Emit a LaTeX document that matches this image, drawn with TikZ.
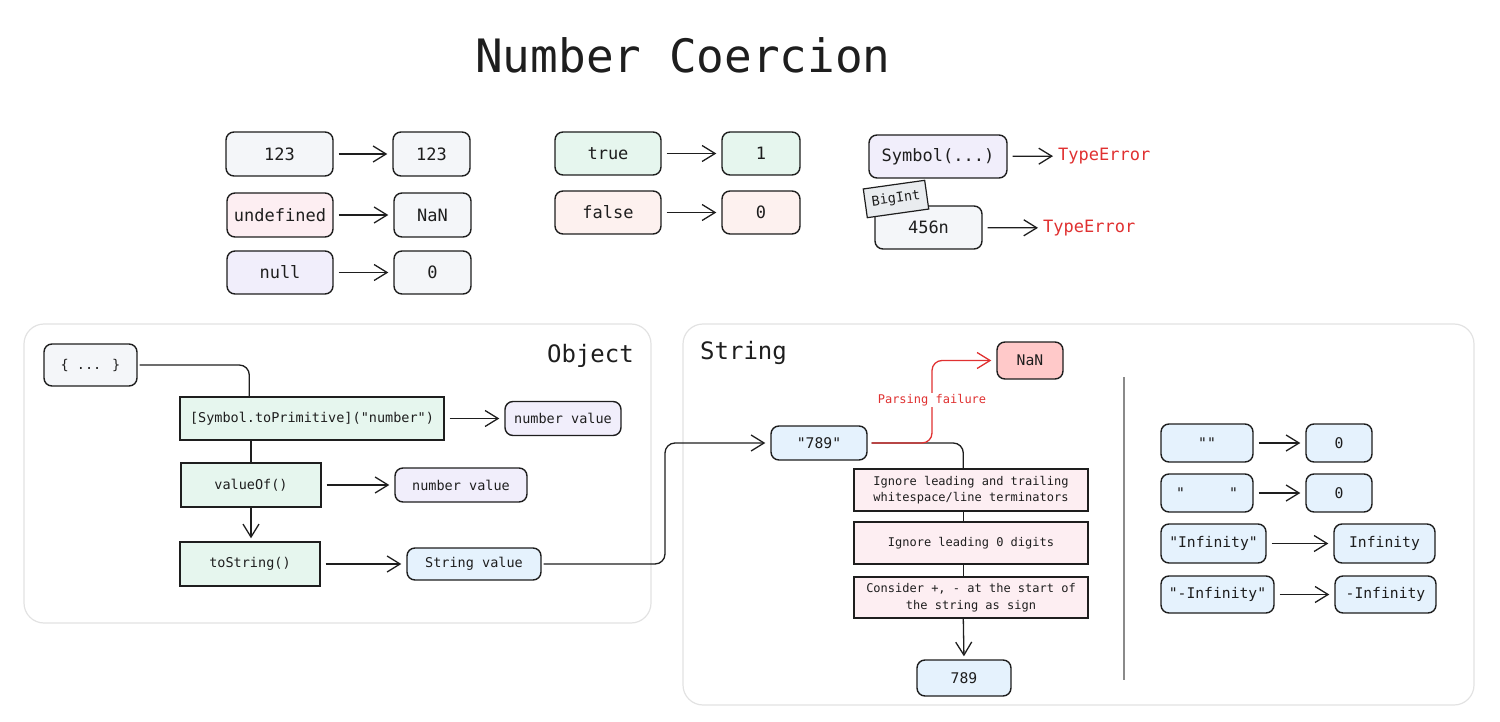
\documentclass[tikz,border=0pt]{standalone}
\usepackage{fontspec}
\setmainfont{DejaVu Sans Mono}[Ligatures=TeXOff]
\usetikzlibrary{arrows.meta,calc}
\definecolor{ink}{HTML}{1E1E1E}
\definecolor{fgray}{HTML}{F4F6F9}
\definecolor{fpink}{HTML}{FDEEF2}
\definecolor{flav}{HTML}{F1EEFB}
\definecolor{fgreen}{HTML}{E6F6EE}
\definecolor{fpeach}{HTML}{FDF1EF}
\definecolor{fblue}{HTML}{E5F2FD}
\definecolor{fnan}{HTML}{FFC9C9}
\definecolor{ftag}{HTML}{E9ECEF}
\definecolor{errred}{HTML}{E03131}
\definecolor{panel}{HTML}{E2E2E2}
\definecolor{divider}{HTML}{8A8A8A}
\tikzset{
  bx/.style={draw=ink, line width=1.4pt, rounded corners=8pt, inner sep=0pt, text=ink, align=center},
  sq/.style={draw=ink, line width=1.4pt, inner sep=0pt, text=ink, align=center},
  ln/.style={draw=ink, line width=1.3pt},
  arr/.style={ln, -{Straight Barb[length=13pt,width=16pt,line width=1.3pt]}, shorten >=5pt, shorten <=5pt},
  redarr/.style={draw=errred, line width=1.3pt, -{Straight Barb[length=13pt,width=16pt,line width=1.3pt]}, shorten >=5pt, shorten <=4pt},
  pnl/.style={draw=panel, line width=1.2pt, rounded corners=20pt},
  fA/.style={font=\fontsize{17}{20}\selectfont},
  fB/.style={font=\fontsize{13.5}{16}\selectfont},
  fC/.style={font=\fontsize{12}{16.5}\selectfont},
  fD/.style={font=\fontsize{14.7}{18}\selectfont},
  fT/.style={font=\fontsize{24}{28}\selectfont},
  sz/.style 2 args={minimum width=#1pt, minimum height=#2pt},
}
\begin{document}
\begin{tikzpicture}[x=1pt,y=-1pt]
\useasboundingbox (0,0) rectangle (1500,722);

% title
\node[text=ink, font=\fontsize{46}{54}\selectfont] (title) at (683,55) {Number Coercion};

% top-left group
\node[bx, fA, fill=fgray, sz={107}{44}] (a1) at (279.5,154) {123};
\node[bx, fA, fill=fgray, sz={77}{44}] (b1) at (431.5,154) {123};
\node[bx, fA, fill=fpink, sz={106}{44}] (a2) at (280,215) {undefined};
\node[bx, fA, fill=fgray, sz={77}{44}] (b2) at (432.5,215) {NaN};
\node[bx, fA, fill=flav, sz={106}{43}] (a3) at (280,272.5) {null};
\node[bx, fA, fill=fgray, sz={77}{43}] (b3) at (432.5,272.5) {0};
\draw[arr] (a1) -- (b1);
\draw[arr] (a2) -- (b2);
\draw[arr] (a3) -- (b3);

% middle group
\node[bx, fA, fill=fgreen, sz={106}{43}] (c1) at (608,153.5) {true};
\node[bx, fA, fill=fgreen, sz={78}{43}] (d1) at (761,153.5) {1};
\node[bx, fA, fill=fpeach, sz={106}{43}] (c2) at (608,212.5) {false};
\node[bx, fA, fill=fpeach, sz={78}{43}] (d2) at (761,212.5) {0};
\draw[arr] (c1) -- (d1);
\draw[arr] (c2) -- (d2);

% right group
\node[bx, fA, fill=flav, sz={138}{43}] (sym) at (938,156.5) {Symbol(...)};
\node[fA, text=errred, anchor=west, inner sep=0pt] (te1) at (1058,156) {TypeError};
\draw[arr] (sym) -- (te1);
\node[bx, fA, fill=fgray, sz={107}{43}] (big) at (928.5,227.5) {456n};
\node[fA, text=errred, anchor=west, inner sep=0pt] (te2) at (1043,228) {TypeError};
\draw[arr] (big) -- (te2);
\node[sq, fB, fill=ftag, line width=1.2pt, sz={62}{29}, rotate=8] (tag) at (896,199) {BigInt};

% Object panel
\draw[pnl] (24,324) rectangle (651,623);
\node[fT, text=ink, anchor=base east, inner sep=0pt] (objt) at (634,362) {Object};
\node[bx, fB, fill=fgray, sz={93}{42}] (obj) at (90.5,365) {\{ ... \}};
\node[sq, fB, fill=fgreen, sz={264}{43}] (tp) at (312,418.5) {[Symbol.toPrimitive]("number")};
\node[bx, fB, fill=flav, sz={116}{34}] (nv1) at (563,418.5) {number value};
\node[sq, fB, fill=fgreen, sz={140}{44}] (vo) at (251,485) {valueOf()};
\node[bx, fB, fill=flav, sz={132}{34}] (nv2) at (461,485) {number value};
\node[sq, fB, fill=fgreen, sz={140}{44}] (ts) at (250,564) {toString()};
\node[bx, fB, fill=fblue, sz={134}{32}] (sv) at (474,564) {String value};
\draw[ln, rounded corners=10pt, shorten <=2pt] (obj.east) -| ([xshift=70pt]tp.north west);
\draw[arr] (tp) -- (nv1);
\draw[ln] (vo.north |- tp.south) -- (vo.north);
\draw[arr] (vo) -- (nv2);
\draw[arr, shorten <=0pt, shorten >=3pt] (vo.south) -- (vo.south |- ts.north);
\draw[arr] (ts) -- (sv);

% String panel
\draw[pnl] (683,324) rectangle (1474,705);
\node[fT, text=ink, anchor=base west, inner sep=0pt] (strt) at (700,359) {String};
\node[bx, fD, fill=fblue, sz={96}{34}] (s789) at (819,443) {"789"};
\node[bx, fD, fill=fnan, sz={66}{37}] (nan) at (1030,360.5) {NaN};
\node[sq, fC, fill=fpink, sz={234}{42}] (st1) at (971,490) {Ignore leading and trailing\\whitespace/line terminators};
\node[sq, fC, fill=fpink, sz={234}{42}] (st2) at (971,543) {Ignore leading 0 digits};
\node[sq, fC, fill=fpink, sz={234}{41}] (st3) at (971,597.5) {Consider +, - at the start of\\the string as sign};
\node[bx, fD, fill=fblue, sz={94}{36}] (r789) at (964,678) {789};
\coordinate (sbend) at (665,500);
\draw[arr, rounded corners=10pt, shorten <=2pt] (sv.east) -| (sbend) |- (s789.west);
\draw[ln, rounded corners=10pt, shorten <=4pt] (s789.east) -| ([xshift=110pt]st1.north west);
\coordinate (pfc) at (932,400);
\draw[redarr, rounded corners=10pt] (s789.east) -| (pfc) |- (nan.west);
\node[fC, text=errred, fill=white, inner sep=1pt] (pf) at (pfc) {Parsing failure};
\draw[ln] ([xshift=110pt]st1.south west) -- ([xshift=110pt]st2.north west);
\draw[ln] ([xshift=110pt]st2.south west) -- ([xshift=110pt]st3.north west);
\draw[arr, shorten <=0pt, shorten >=3pt] ([xshift=110pt]st3.south west) -- (r789.north);
\coordinate (dv1) at (1124,377);
\coordinate (dv2) at (1124,680);
\draw[divider, line width=1.5pt] (dv1) -- (dv2);

% right group in String panel
\node[bx, fD, fill=fblue, sz={92}{38}] (e1) at (1207,443) {""};
\node[bx, fD, fill=fblue, sz={66}{38}] (z1) at (1339,443) {0};
\node[bx, fD, fill=fblue, sz={92}{38}] (e2) at (1207,493) {"\ \ \ \ \ "};
\node[bx, fD, fill=fblue, sz={66}{38}] (z2) at (1339,493) {0};
\node[bx, fD, fill=fblue, sz={105}{39}] (e3) at (1213.5,543.5) {"Infinity"};
\node[bx, fD, fill=fblue, sz={101}{39}] (i3) at (1384.5,543.5) {Infinity};
\node[bx, fD, fill=fblue, sz={113}{37}] (e4) at (1217.5,594.5) {"-Infinity"};
\node[bx, fD, fill=fblue, sz={101}{37}] (i4) at (1385.5,594.5) {-Infinity};
\draw[arr] (e1) -- (z1);
\draw[arr] (e2) -- (z2);
\draw[arr] (e3) -- (i3);
\draw[arr] (e4) -- (i4);
\end{tikzpicture}
\end{document}
